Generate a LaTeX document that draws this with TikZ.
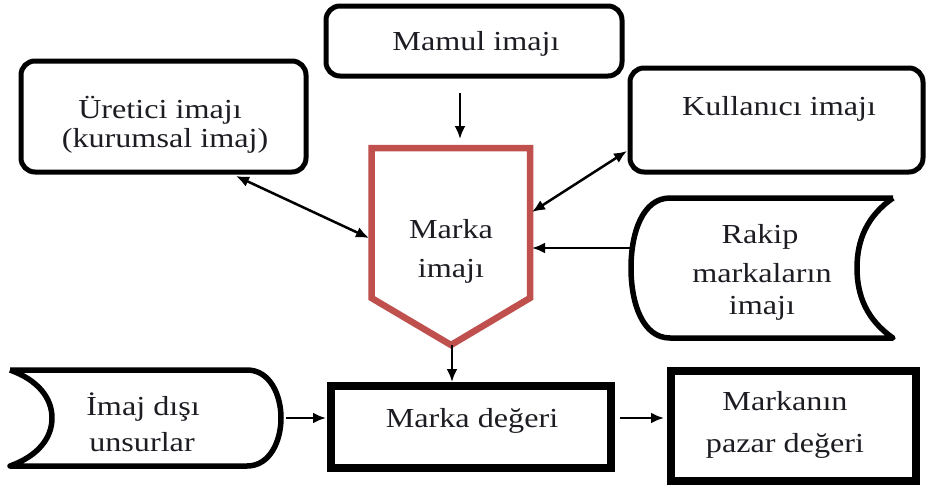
\documentclass[tikz,border=0pt]{standalone}
\usepackage{fontspec}
\setmainfont{Liberation Serif}[FakeStretch=1.17]
\usetikzlibrary{arrows.meta}
\definecolor{redline}{RGB}{192,80,77}
\definecolor{ink}{RGB}{28,28,34}
\begin{document}
\begin{tikzpicture}[x=1pt,y=-1pt,
  rbox/.style={draw, line width=5pt, rounded corners=14pt, inner sep=0pt},
  sbox/.style={draw, line width=8pt, inner sep=0pt},
  txt/.style={font=\fontsize{27.5}{32}\selectfont, text=ink, inner sep=0pt, anchor=base},
  arr/.style={line width=2.5pt, -{Latex[length=13pt,width=11pt]}},
  darr/.style={line width=2.5pt, {Latex[length=13pt,width=11pt]}-{Latex[length=13pt,width=11pt]}}]
\useasboundingbox[fill=white] (0,0) rectangle (929,491);

% rounded boxes
\node[rbox, minimum width=296pt, minimum height=70pt] (mamul) at (474,41) {};
\node[rbox, minimum width=285pt, minimum height=111pt] (uretici) at (163.5,116.5) {};
\node[rbox, minimum width=293pt, minimum height=104pt] (kullanici) at (776.5,120) {};

% square boxes
\node[sbox, minimum width=280pt, minimum height=82pt] (deger) at (471,427) {};
\node[sbox, minimum width=245pt, minimum height=110pt] (pazar) at (793.5,426) {};

% pentagon (Marka imaji)
\draw[redline, line width=6.5pt, line join=miter]
  (371.5,148) -- (530,148) -- (530,298) -- (451,345) -- (371.5,298) -- cycle;

% Rakip shape
\draw[line width=5.5pt, line join=round]
  (893,198) -- (670,198)
  .. controls (643,198) and (631,232) .. (631,268)
  .. controls (631,304) and (643,338) .. (670,338)
  -- (893,338)
  .. controls (867,320) and (857,296) .. (857,268)
  .. controls (857,240) and (867,216) .. (893,198);

% Imaj disi shape
\draw[line width=5.5pt, line join=round]
  (10,370) -- (247,370)
  .. controls (270,370) and (281,395) .. (281,418)
  .. controls (281,441) and (270,466) .. (247,466)
  -- (10,466)
  .. controls (38,456) and (52,438) .. (52,418)
  .. controls (52,398) and (38,380) .. (10,370);

% texts
\node[txt] (tmamul) at (476,50) {Mamul imajı};
\node[txt] (turet1) at (160,118) {Üretici imajı};
\node[txt] (turet2) at (165,147) {(kurumsal imaj)};
\node[txt] (tkull) at (779,115) {Kullanıcı imajı};
\node[txt] (tmarka1) at (451,238) {Marka};
\node[txt] (tmarka2) at (451,277) {imajı};
\node[txt] (trakip1) at (760,243) {Rakip};
\node[txt] (trakip2) at (762,282) {markaların};
\node[txt] (trakip3) at (762,314) {imajı};
\node[txt] (timaj1) at (143,415) {İmaj dışı};
\node[txt] (timaj2) at (142,451) {unsurlar};
\node[txt] (tdeger) at (472,427) {Marka değeri};
\node[txt] (tpazar1) at (785,410) {Markanın};
\node[txt] (tpazar2) at (785,452) {pazar değeri};

% connector end points
\coordinate (mamulOut) at (460,93);
\coordinate (penTop) at (460,139);
\coordinate (uretOut) at (236,176);
\coordinate (penLeft) at (369,238);
\coordinate (kullOut) at (627,151);
\coordinate (penRightA) at (532,212);
\coordinate (rakipOut) at (631,248);
\coordinate (penRightB) at (532,248);
\coordinate (penTip) at (452,345);
\coordinate (degerTop) at (452,382);
\coordinate (imajOut) at (286,418);
\coordinate (degerLeft) at (326,418);
\coordinate (degerRight) at (620,418);
\coordinate (pazarLeft) at (664,418);

% connectors
\draw[arr] (mamulOut) -- (penTop);
\draw[darr] (uretOut) -- (penLeft);
\draw[darr] (kullOut) -- (penRightA);
\draw[arr] (rakipOut) -- (penRightB);
\draw[arr] (penTip) -- (degerTop);
\draw[arr] (imajOut) -- (degerLeft);
\draw[arr] (degerRight) -- (pazarLeft);
\end{tikzpicture}
\end{document}
